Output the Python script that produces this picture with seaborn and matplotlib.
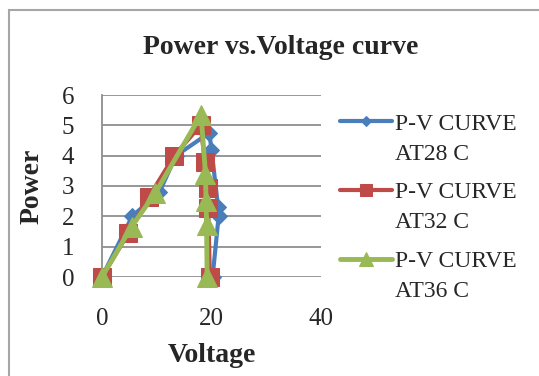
import matplotlib
matplotlib.use("Agg")
import matplotlib.pyplot as plt
import matplotlib.patches as mpatches
import seaborn as sns
import pandas as pd

# ---- data ----
v_28 = [0, 5.5, 10.5, 13.5, 19.6, 20.0, 21.2, 21.3, 20.2]
p_28 = [0, 2.0, 2.8, 4.0, 4.75, 4.2, 2.3, 2.0, 0]
v_32 = [0, 4.8, 8.6, 13.2, 18.0, 18.8, 19.3, 19.4, 19.7]
p_32 = [0, 1.44, 2.65, 4.0, 5.0, 3.8, 2.93, 2.27, 0]
v_36 = [0, 5.4, 9.7, 18.1, 18.9, 19.0, 19.1, 19.2]
p_36 = [0, 1.66, 2.76, 5.35, 3.4, 2.5, 1.7, 0]
labels = ["P-V CURVE", "P-V CURVE", "P-V CURVE"]
sublabels = ["AT28 C", "AT32 C", "AT36 C"]
title = "Power vs.Voltage curve"
xlabel = "Voltage"
ylabel = "Power"
xticks = [0, 20, 40]
yticks = [0, 1, 2, 3, 4, 5, 6]

sns.set_theme(style="white")
plt.rcParams["font.family"] = ["Liberation Serif", "DejaVu Serif"]

W, H = 539, 376
fig = plt.figure(figsize=(W / 100, H / 100), dpi=100)
ax = fig.add_axes([102 / W, 1 - 277 / H, 219 / W, 182 / H])

series = [
    (v_28, p_28, "#4A7EBB", "D", 8, 3.0),
    (v_32, p_32, "#BE4B48", "s", 13, 3.0),
    (v_36, p_36, "#98B954", "^", 15, 3.5),
]
handles = []
for (v, p, c, m, ms, lw), lab in zip(series, labels):
    df = pd.DataFrame({"V": v, "P": p})
    sns.lineplot(data=df, x="V", y="P", ax=ax, sort=False, estimator=None,
                 color=c, marker=m, markersize=ms, markeredgecolor=c,
                 linewidth=lw, clip_on=False, zorder=3)
    handles.append(ax.lines[-1])

ax.set_xlim(0, 40)
ax.set_ylim(0, 6)
ax.set_xticks(xticks)
ax.set_yticks(yticks)
ax.tick_params(axis="both", length=0, labelsize=18)
ax.tick_params(axis="y", pad=20)
ax.tick_params(axis="x", pad=22)
ax.grid(axis="y", color="#8f8f8f", linewidth=1.3)
ax.grid(axis="x", visible=False)
for s in ["top", "right", "bottom"]:
    ax.spines[s].set_visible(False)
ax.spines["left"].set_color("#8f8f8f")
ax.spines["left"].set_linewidth(1.3)

ax.set_xlabel(xlabel, fontsize=20, fontweight="bold", labelpad=10)
ax.set_ylabel(ylabel, fontsize=20, fontweight="bold", labelpad=12)
fig.text(281 / W, 1 - 47 / H, title, fontsize=20, fontweight="bold",
         ha="center", va="center")

leg = ax.legend(handles, labels, loc="upper left",
                bbox_to_anchor=(340 / W, 1 - 113 / H),
                bbox_transform=fig.transFigure, frameon=False,
                fontsize=17, handlelength=2.2, handletextpad=0.15,
                labelspacing=2.0, borderpad=0, borderaxespad=0,
                markerscale=0.65)

fig.canvas.draw()
renderer = fig.canvas.get_renderer()
for t, sub in zip(leg.get_texts(), sublabels):
    bb = t.get_window_extent(renderer)
    cy = (bb.y0 + bb.y1) / 2
    fig.text(bb.x0 / W, (cy - 30) / H, sub, ha="left", va="center",
             fontsize=17)

# chart border
fig.patches.append(mpatches.Rectangle((9 / W, -0.1), 1.2, 1.1 - 10 / H,
                                      transform=fig.transFigure, fill=False,
                                      edgecolor="#a6a6a6", linewidth=1.5))

fig.savefig("out.png", dpi=100)
